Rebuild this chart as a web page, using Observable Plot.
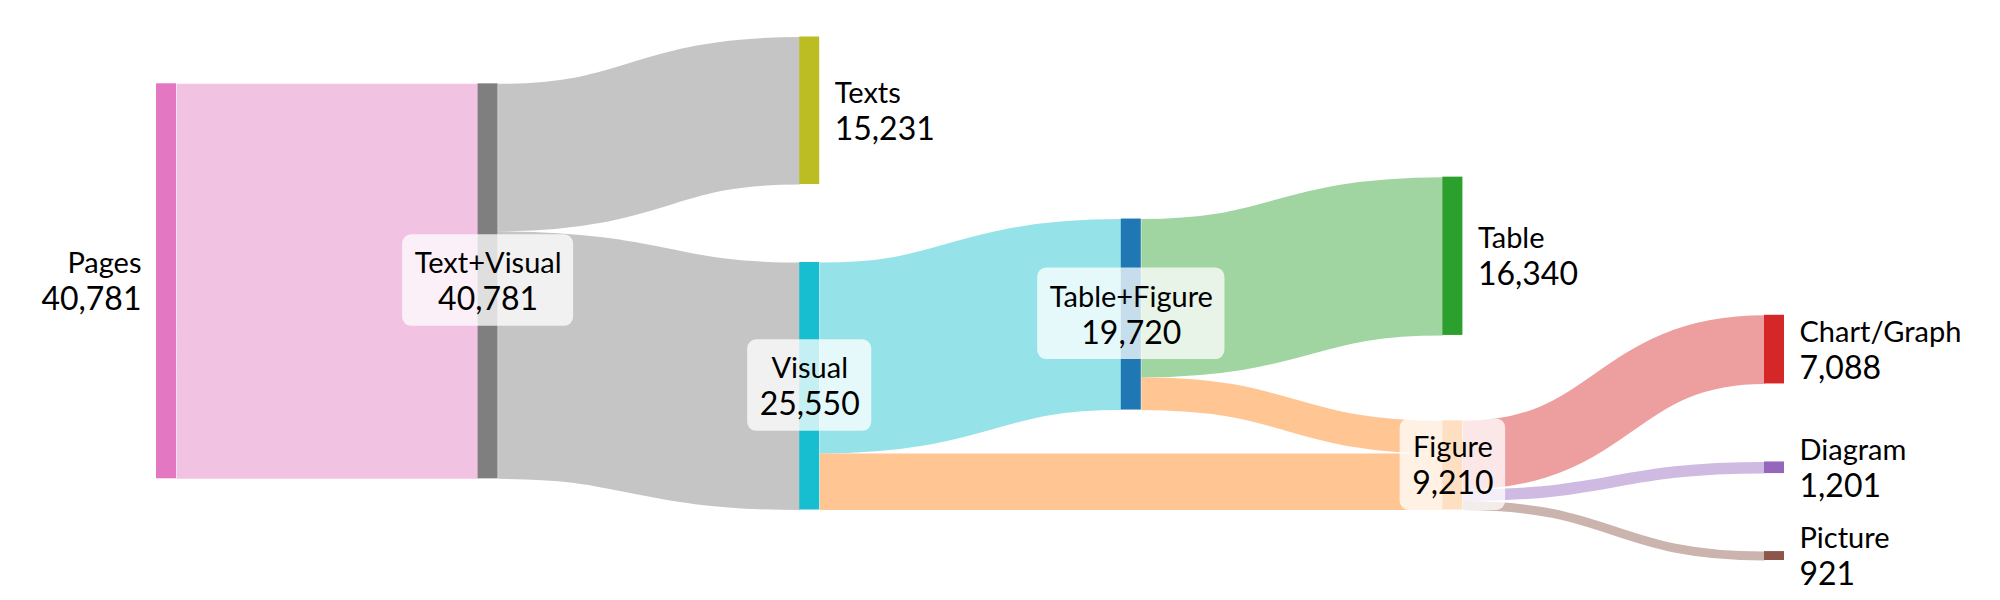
<!DOCTYPE html>
<html>
<head>
<meta charset="utf-8">
<script src="https://cdn.jsdelivr.net/npm/d3@7"></script>
<script src="https://cdn.jsdelivr.net/npm/@observablehq/plot@0.6"></script>
<style>
  html, body { margin: 0; padding: 0; background: #fff; }
</style>
</head>
<body>
<div id="chart"></div>
<script>
// ---------- data ----------
const nodeNames  = ["Pages", "Text+Visual", "Texts", "Visual", "Table+Figure", "Table", "Figure", "Chart/Graph", "Diagram", "Picture"];
const nodeColors = ["#e377c2", "#7f7f7f", "#bcbd22", "#17becf", "#1f77b4", "#2ca02c", "#ff7f0e", "#d62728", "#9467bd", "#8c564b"];
const linkSources = ["Pages", "Text+Visual", "Text+Visual", "Visual", "Visual", "Table+Figure", "Table+Figure", "Figure", "Figure", "Figure"];
const linkTargets = ["Text+Visual", "Texts", "Visual", "Table+Figure", "Figure", "Table", "Figure", "Chart/Graph", "Diagram", "Picture"];
const linkValues  = [40781, 15231, 25550, 19720, 5830, 16340, 3380, 7088, 1201, 921];
const linkColorBy = ["Pages", "Text+Visual", "Text+Visual", "Visual", "Figure", "Table", "Figure", "Chart/Graph", "Diagram", "Picture"];

// ---------- layout constants ----------
const W = 2000, H = 600;
const xLeft = 156, xRight = 1784;
const yTop = 36.5, yFill = 509.5, yBottom = 560;   // inner columns live in yTop..yFill; the last column may reach yBottom
const nodeWidthPx = 20, nodePadPx = 78, iterations = 6;
const nameFont = 29, valueFont = 32, fontFamily = "Lato, 'Open Sans', sans-serif";

// ---------- sankey layout (d3-sankey algorithm, left aligned, input node order kept) ----------
function sankey() {
  const nodes = nodeNames.map((name, i) => ({name, index: i, sourceLinks: [], targetLinks: []}));
  const byName = new Map(nodes.map(d => [d.name, d]));
  const links = linkValues.map((value, i) => ({
    index: i, value, colorBy: linkColorBy[i],
    source: byName.get(linkSources[i]), target: byName.get(linkTargets[i])
  }));
  for (const l of links) { l.source.sourceLinks.push(l); l.target.targetLinks.push(l); }
  for (const n of nodes) n.value = Math.max(d3.sum(n.sourceLinks, l => l.value), d3.sum(n.targetLinks, l => l.value));
  let current = new Set(nodes), next = new Set(), depth = 0;
  while (current.size) {
    for (const n of current) { n.depth = depth; for (const l of n.sourceLinks) next.add(l.target); }
    depth++; current = next; next = new Set();
  }
  const nLayers = d3.max(nodes, d => d.depth) + 1;
  const columns = d3.range(nLayers).map(() => []);
  for (const n of nodes) { n.layer = n.depth; columns[n.layer].push(n); }

  // value units: the tallest column (nodes + paddings) spans yTop..yFill
  const padShare = nodePadPx / (yFill - yTop);
  const Efill = d3.max(columns, c => d3.sum(c, d => d.value) / (1 - (c.length - 1) * padShare));
  const py = padShare * Efill;
  const E = Efill * (yBottom - yTop) / (yFill - yTop);
  const y0 = 0, ky = 1;
  const bound = i => (i === nLayers - 1 ? E : Efill);

  const byBreadth = (a, b) => a.y0 - b.y0;
  const srcBreadth = (a, b) => byBreadth(a.source, b.source) || a.index - b.index;
  const tgtBreadth = (a, b) => byBreadth(a.target, b.target) || a.index - b.index;
  function reorderLinks(ns) { for (const n of ns) { n.sourceLinks.sort(tgtBreadth); n.targetLinks.sort(srcBreadth); } }
  function reorderNodeLinks(n) {
    for (const l of n.targetLinks) l.source.sourceLinks.sort(tgtBreadth);
    for (const l of n.sourceLinks) l.target.targetLinks.sort(srcBreadth);
  }
  columns.forEach((ns, ci) => {
    let y = y0;
    for (const n of ns) {
      n.y0 = y; n.y1 = y + n.value * ky; y = n.y1 + py;
      for (const l of n.sourceLinks) l.width = l.value * ky;
    }
    y = (bound(ci) - y + py) / (ns.length + 1);
    ns.forEach((n, i) => { n.y0 += y * (i + 1); n.y1 += y * (i + 1); });
    reorderLinks(ns);
  });
  function targetTop(source, target) {
    let y = source.y0 - (source.sourceLinks.length - 1) * py / 2;
    for (const l of source.sourceLinks) { if (l.target === target) break; y += l.width + py; }
    for (const l of target.targetLinks) { if (l.source === source) break; y -= l.width; }
    return y;
  }
  function sourceTop(source, target) {
    let y = target.y0 - (target.targetLinks.length - 1) * py / 2;
    for (const l of target.targetLinks) { if (l.source === source) break; y += l.width + py; }
    for (const l of source.sourceLinks) { if (l.target === target) break; y -= l.width; }
    return y;
  }
  function downward(ns, y, i, a) {
    for (; i < ns.length; ++i) { const n = ns[i]; const d = (y - n.y0) * a; if (d > 1e-6) { n.y0 += d; n.y1 += d; } y = n.y1 + py; }
  }
  function upward(ns, y, i, a) {
    for (; i >= 0; --i) { const n = ns[i]; const d = (n.y1 - y) * a; if (d > 1e-6) { n.y0 -= d; n.y1 -= d; } y = n.y0 - py; }
  }
  function resolve(ns, a, y1) {
    const i = ns.length >> 1, s = ns[i];
    upward(ns, s.y0 - py, i - 1, a);
    downward(ns, s.y1 + py, i + 1, a);
    upward(ns, y1, ns.length - 1, a);
    downward(ns, y0, 0, a);
  }
  function relaxLR(alpha, beta) {
    for (let i = 1; i < columns.length; ++i) {
      const col = columns[i];
      for (const t of col) {
        let y = 0, w = 0;
        for (const l of t.targetLinks) { const v = l.value * (t.layer - l.source.layer); y += targetTop(l.source, t) * v; w += v; }
        if (!(w > 0)) continue;
        const d = (y / w - t.y0) * alpha; t.y0 += d; t.y1 += d; reorderNodeLinks(t);
      }
      resolve(col, beta, bound(i));
    }
  }
  function relaxRL(alpha, beta) {
    for (let i = columns.length - 2; i >= 0; --i) {
      const col = columns[i];
      for (const s of col) {
        let y = 0, w = 0;
        for (const l of s.sourceLinks) { const v = l.value * (l.target.layer - s.layer); y += sourceTop(s, l.target) * v; w += v; }
        if (!(w > 0)) continue;
        const d = (y / w - s.y0) * alpha; s.y0 += d; s.y1 += d; reorderNodeLinks(s);
      }
      resolve(col, beta, bound(i));
    }
  }
  for (let i = 0; i < iterations; ++i) {
    const alpha = Math.pow(0.99, i), beta = Math.max(1 - alpha, (i + 1) / iterations);
    relaxRL(alpha, beta); relaxLR(alpha, beta);
  }
  for (const n of nodes) {
    let a = n.y0, b = n.y0;
    for (const l of n.sourceLinks) { l.y0 = a + l.width / 2; a += l.width; }
    for (const l of n.targetLinks) { l.y1 = b + l.width / 2; b += l.width; }
  }
  return {nodes, links, nLayers, E};
}

const {nodes, links, nLayers, E} = sankey();

// ---------- scales ----------
const layerPx = (xRight - xLeft - nodeWidthPx) / (nLayers - 1);
const nodeW = nodeWidthPx / layerPx;              // node width in layer units
const xDomain = [0, nLayers - 1 + nodeW];
const yDomain = [0, E];
const xs = Plot.scale({x: {domain: xDomain, range: [xLeft, xRight]}});
const ys = Plot.scale({y: {domain: yDomain, range: [yTop, yBottom]}});
const kPx = (yBottom - yTop) / E;

// ---------- label helpers ----------
const fmt = d3.format(",");
const ctx = document.createElement("canvas").getContext("2d");
function textW(t, size) { ctx.font = `${size}px ${fontFamily}`; return ctx.measureText(t).width; }
const cy = d => (d.y0 + d.y1) / 2;
const isRoot = d => d.targetLinks.length === 0;
const isLeaf = d => d.sourceLinks.length === 0;
const rootNodes = nodes.filter(isRoot);
const leafNodes = nodes.filter(isLeaf);
const midNodes = nodes.filter(d => !isRoot(d) && !isLeaf(d));
const boxHalf = d => (Math.max(textW(d.name, nameFont), textW(fmt(d.value), valueFont)) + 24) / 2;

const plot = Plot.plot({
  width: W, height: H,
  marginTop: 0, marginBottom: 0, marginLeft: 0, marginRight: 0,
  x: {domain: xDomain, range: [xLeft, xRight], axis: null},
  y: {domain: yDomain, range: [yTop, yBottom], axis: null},
  color: {domain: nodeNames, range: nodeColors},
  style: {fontFamily, background: "#fff", color: "#000"},
  marks: [
    Plot.link(links, {
      x1: d => d.source.layer + nodeW, y1: d => d.y0,
      x2: d => d.target.layer, y2: d => d.y1,
      curve: "bump-x", stroke: "colorBy", strokeOpacity: 0.45,
      strokeWidth: d => Math.max(1, d.width * kPx)
    }),
    Plot.rect(nodes, {x1: d => d.layer, x2: d => d.layer + nodeW, y1: "y0", y2: "y1", fill: "name"}),
    Plot.rect(midNodes, {
      x1: d => xs.invert(xs.apply(d.layer + nodeW / 2) - boxHalf(d)),
      x2: d => xs.invert(xs.apply(d.layer + nodeW / 2) + boxHalf(d)),
      y1: d => ys.invert(ys.apply(cy(d)) - 46.5),
      y2: d => ys.invert(ys.apply(cy(d)) + 45),
      fill: "white", fillOpacity: 0.75, rx: 9
    }),
    Plot.text(midNodes, {x: d => d.layer + nodeW / 2, y: cy, text: "name", dy: -8, lineAnchor: "bottom", fontSize: nameFont, fill: "#000"}),
    Plot.text(midNodes, {x: d => d.layer + nodeW / 2, y: cy, text: d => fmt(d.value), dy: 29, lineAnchor: "bottom", fontSize: valueFont, fill: "#000"}),
    Plot.text(rootNodes, {x: "layer", y: cy, text: "name", dx: -15, dy: -8, lineAnchor: "bottom", textAnchor: "end", fontSize: nameFont, fill: "#000"}),
    Plot.text(rootNodes, {x: "layer", y: cy, text: d => fmt(d.value), dx: -15, dy: 29, lineAnchor: "bottom", textAnchor: "end", fontSize: valueFont, fill: "#000"}),
    Plot.text(leafNodes, {x: d => d.layer + nodeW, y: cy, text: "name", dx: 15, dy: -8, lineAnchor: "bottom", textAnchor: "start", fontSize: nameFont, fill: "#000"}),
    Plot.text(leafNodes, {x: d => d.layer + nodeW, y: cy, text: d => fmt(d.value), dx: 15, dy: 29, lineAnchor: "bottom", textAnchor: "start", fontSize: valueFont, fill: "#000"})
  ]
});
document.getElementById("chart").append(plot);
</script>
</body>
</html>
